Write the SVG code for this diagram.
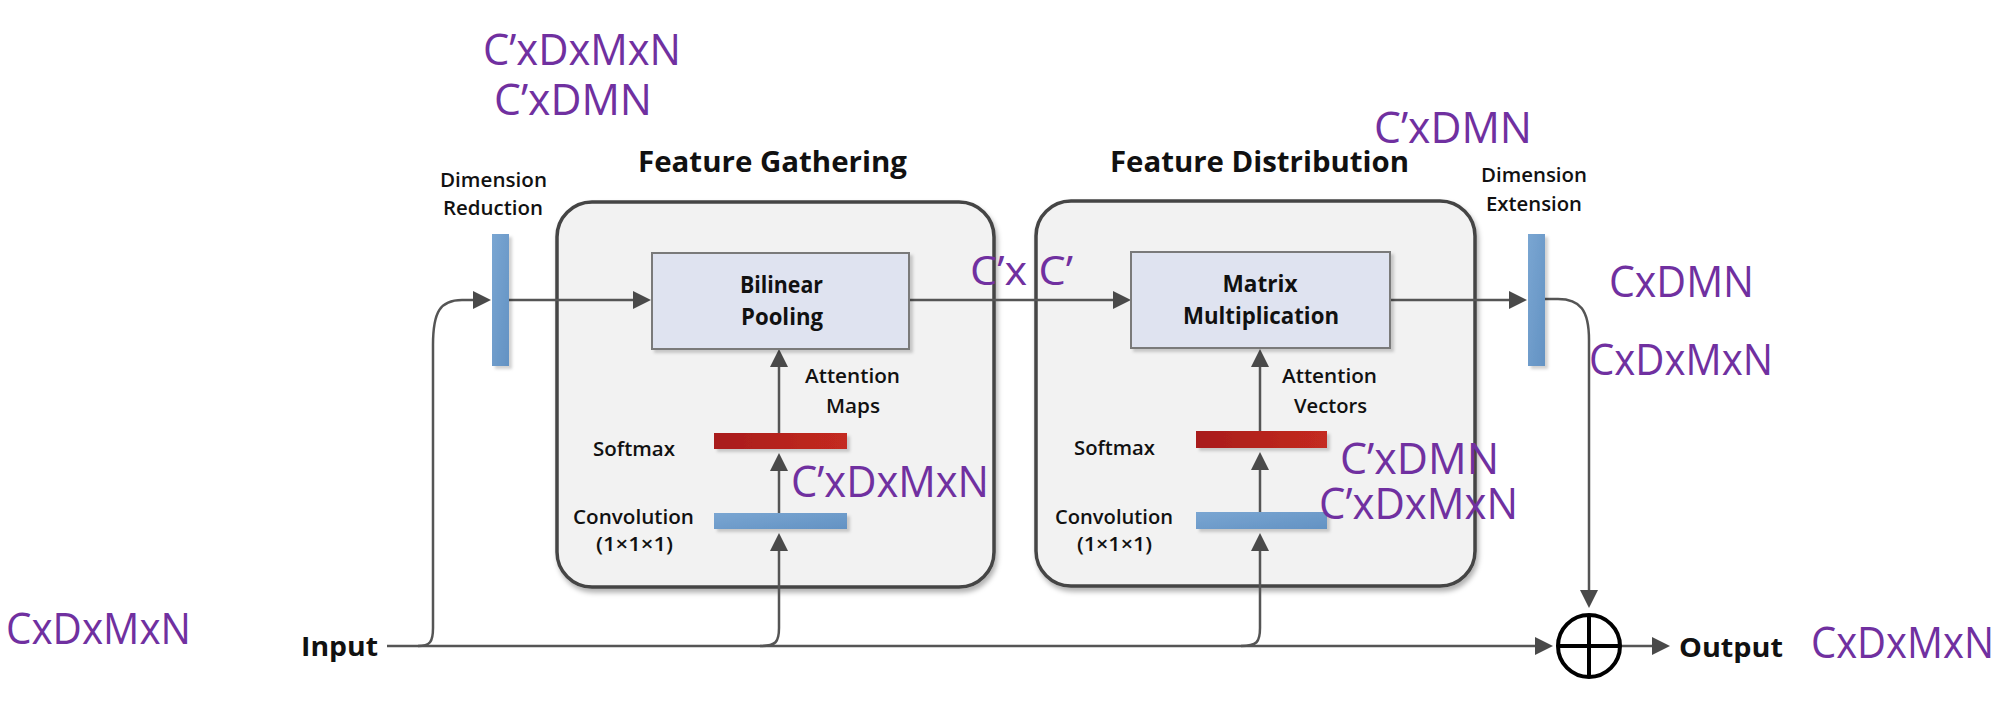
<svg xmlns="http://www.w3.org/2000/svg" width="2006" height="711" viewBox="0 0 2006 711">
<style>
.dim{font-family:"Open Sans","Noto Sans",sans-serif;fill:#7030A0;font-size:44px}
.lbl{font-family:"Open Sans","Noto Sans",sans-serif;fill:#111;font-weight:bold}
.big{font-size:28px}
.sm{font-size:19px;font-weight:600}
.mid{font-size:23px}
.io{font-size:27px}
.conn{fill:none;stroke:#555;stroke-width:2.5}
.group{fill:#f2f2f2;stroke:#444;stroke-width:3.5}
.op{fill:#dfe3f0;stroke:#7a7a7a;stroke-width:2}
</style>
<defs>
<marker id="arr" viewBox="0 0 18 18" refX="14" refY="9" markerWidth="18" markerHeight="18" markerUnits="userSpaceOnUse" orient="auto">
<path d="M0,0 L18,9 L0,18 z" fill="#4a4a4a"/>
</marker>
<linearGradient id="blue" x1="0" y1="0" x2="1" y2="1">
<stop offset="0" stop-color="#7aa6d2"/><stop offset="1" stop-color="#6392c3"/>
</linearGradient>
<linearGradient id="red" x1="0" y1="0" x2="1" y2="0">
<stop offset="0" stop-color="#a81c1c"/><stop offset="1" stop-color="#c42a20"/>
</linearGradient>
<filter id="sh" x="-10%" y="-10%" width="130%" height="130%">
<feDropShadow dx="2" dy="4" stdDeviation="2.5" flood-color="#000" flood-opacity="0.3"/>
</filter>
<filter id="shs" x="-20%" y="-20%" width="150%" height="160%">
<feDropShadow dx="3" dy="3" stdDeviation="1.5" flood-color="#000" flood-opacity="0.18"/>
</filter>
</defs>

<g id="feature-gathering">
<rect class="group" x="557" y="202" width="437" height="385" rx="35" filter="url(#sh)"/>
<text class="lbl big" x="638" y="172" textLength="269" lengthAdjust="spacingAndGlyphs">Feature Gathering</text>
</g>
<g id="feature-distribution">
<rect class="group" x="1036" y="201" width="439" height="385" rx="35" filter="url(#sh)"/>
<text class="lbl big" x="1110" y="172" textLength="299" lengthAdjust="spacingAndGlyphs">Feature Distribution</text>
</g>

<g id="connectors">
<path class="conn" d="M387,646 H1549" marker-end="url(#arr)"/>
<path class="conn" d="M418,646 C430,646 433,642 433,628 V345 C433,312 440,300 462,300 H487" marker-end="url(#arr)"/>
<path class="conn" d="M760,646 C776,646 779,642 779,628 V537" marker-end="url(#arr)"/>
<path class="conn" d="M779,513 V457" marker-end="url(#arr)"/>
<path class="conn" d="M779,433 V353" marker-end="url(#arr)"/>
<path class="conn" d="M1241,646 C1257,646 1260,642 1260,628 V537" marker-end="url(#arr)"/>
<path class="conn" d="M1260,512 V456" marker-end="url(#arr)"/>
<path class="conn" d="M1260,431 V353" marker-end="url(#arr)"/>
<path class="conn" d="M509,300 H647" marker-end="url(#arr)"/>
<path class="conn" d="M909,300 H1127" marker-end="url(#arr)"/>
<path class="conn" d="M1390,300 H1523" marker-end="url(#arr)"/>
<path class="conn" d="M1545,299 H1558 C1580,299 1589,310 1589,340 V604" marker-end="url(#arr)"/>
<path class="conn" d="M1621,646 H1666" marker-end="url(#arr)"/>
</g>

<g id="dimension-reduction">
<rect x="492" y="234" width="17" height="132" fill="url(#blue)" filter="url(#shs)"/>
<text class="lbl sm" x="440" y="187" textLength="107" lengthAdjust="spacingAndGlyphs">Dimension</text>
<text class="lbl sm" x="443" y="215" textLength="100" lengthAdjust="spacingAndGlyphs">Reduction</text>
</g>

<g id="bilinear-pooling">
<rect class="op" x="652" y="253" width="257" height="96" filter="url(#shs)"/>
<text class="lbl mid" x="781.5" y="293" text-anchor="middle" textLength="83" lengthAdjust="spacingAndGlyphs">Bilinear</text>
<text class="lbl mid" x="782" y="325" text-anchor="middle" textLength="82" lengthAdjust="spacingAndGlyphs">Pooling</text>
</g>

<g id="fg-softmax">
<rect x="714" y="433" width="133" height="16" fill="url(#red)" filter="url(#shs)"/>
<text class="lbl sm" x="593" y="456" textLength="82" lengthAdjust="spacingAndGlyphs">Softmax</text>
</g>
<g id="fg-conv">
<rect x="714" y="513" width="133" height="16" fill="url(#blue)" filter="url(#shs)"/>
<text class="lbl sm" x="573" y="524" textLength="121" lengthAdjust="spacingAndGlyphs">Convolution</text>
<text class="lbl sm" x="596" y="551" textLength="77" lengthAdjust="spacingAndGlyphs">(1×1×1)</text>
</g>
<g id="fg-attention-label">
<text class="lbl sm" x="805" y="383" textLength="95" lengthAdjust="spacingAndGlyphs">Attention</text>
<text class="lbl sm" x="826" y="413" textLength="54" lengthAdjust="spacingAndGlyphs">Maps</text>
</g>

<g id="matrix-multiplication">
<rect class="op" x="1131" y="252" width="259" height="96" filter="url(#shs)"/>
<text class="lbl mid" x="1260" y="292" text-anchor="middle" textLength="75" lengthAdjust="spacingAndGlyphs">Matrix</text>
<text class="lbl mid" x="1261" y="324" text-anchor="middle" textLength="156" lengthAdjust="spacingAndGlyphs">Multiplication</text>
</g>

<g id="fd-softmax">
<rect x="1196" y="431" width="131" height="17" fill="url(#red)" filter="url(#shs)"/>
<text class="lbl sm" x="1074" y="455" textLength="81" lengthAdjust="spacingAndGlyphs">Softmax</text>
</g>
<g id="fd-conv">
<rect x="1196" y="512" width="131" height="17" fill="url(#blue)" filter="url(#shs)"/>
<text class="lbl sm" x="1055" y="524" textLength="118" lengthAdjust="spacingAndGlyphs">Convolution</text>
<text class="lbl sm" x="1077" y="551" textLength="75" lengthAdjust="spacingAndGlyphs">(1×1×1)</text>
</g>
<g id="fd-attention-label">
<text class="lbl sm" x="1282" y="383" textLength="95" lengthAdjust="spacingAndGlyphs">Attention</text>
<text class="lbl sm" x="1294" y="413" textLength="73" lengthAdjust="spacingAndGlyphs">Vectors</text>
</g>

<g id="dimension-extension">
<rect x="1528" y="234" width="17" height="132" fill="url(#blue)" filter="url(#shs)"/>
<text class="lbl sm" x="1481" y="182" textLength="106" lengthAdjust="spacingAndGlyphs">Dimension</text>
<text class="lbl sm" x="1486" y="211" textLength="96" lengthAdjust="spacingAndGlyphs">Extension</text>
</g>

<g id="sum">
<circle cx="1589" cy="646" r="31" fill="#fff" stroke="#000" stroke-width="4"/>
<path d="M1558,646 H1620 M1589,615 V677" stroke="#000" stroke-width="4"/>
</g>

<g id="input">
<text class="lbl io" x="301" y="656" textLength="77" lengthAdjust="spacingAndGlyphs">Input</text>
</g>
<g id="output">
<text class="lbl io" x="1679" y="657" textLength="104" lengthAdjust="spacingAndGlyphs">Output</text>
</g>

<g id="dimension-labels">
<text class="dim" x="483" y="65" textLength="198" lengthAdjust="spacingAndGlyphs">C’xDxMxN</text>
<text class="dim" x="494" y="115" textLength="158" lengthAdjust="spacingAndGlyphs">C’xDMN</text>
<text class="dim" x="1374" y="143" textLength="158" lengthAdjust="spacingAndGlyphs">C’xDMN</text>
<text class="dim" x="970" y="285" style="font-size:40px" textLength="103" lengthAdjust="spacingAndGlyphs">C’x C’</text>
<text class="dim" x="1609" y="297" textLength="145" lengthAdjust="spacingAndGlyphs">CxDMN</text>
<text class="dim" x="1589" y="375" textLength="184" lengthAdjust="spacingAndGlyphs">CxDxMxN</text>
<text class="dim" x="791" y="497" textLength="198" lengthAdjust="spacingAndGlyphs">C’xDxMxN</text>
<text class="dim" x="1340" y="474" textLength="159" lengthAdjust="spacingAndGlyphs">C’xDMN</text>
<text class="dim" x="1319" y="519" textLength="199" lengthAdjust="spacingAndGlyphs">C’xDxMxN</text>
<text class="dim" x="6" y="644" textLength="185" lengthAdjust="spacingAndGlyphs">CxDxMxN</text>
<text class="dim" x="1811" y="658" textLength="183" lengthAdjust="spacingAndGlyphs">CxDxMxN</text>
</g>
</svg>
